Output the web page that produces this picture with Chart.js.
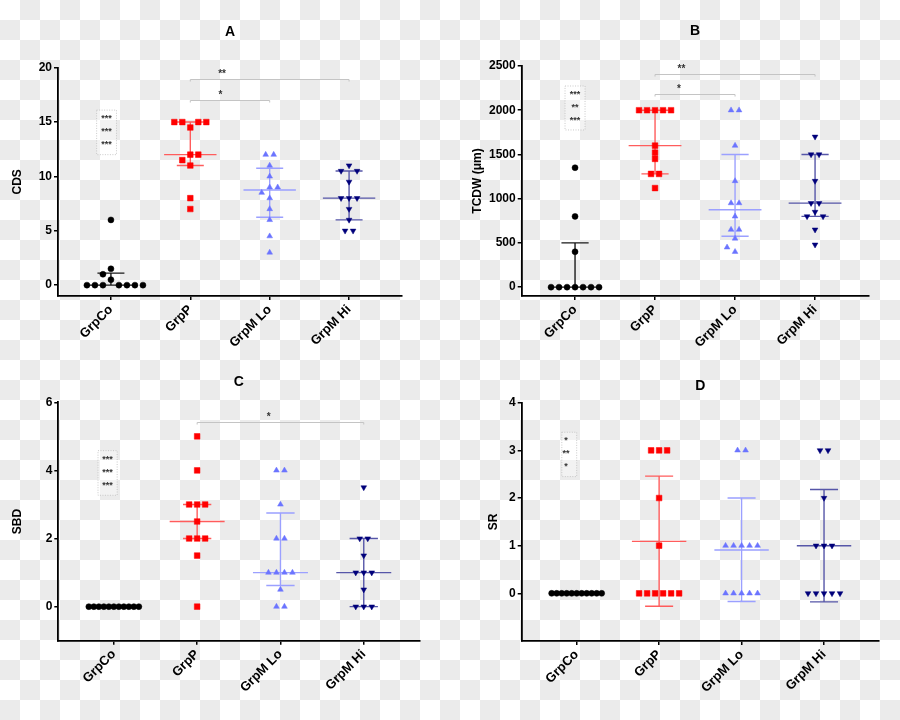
<!DOCTYPE html>
<html>
<head>
<meta charset="utf-8">
<script src="https://cdn.jsdelivr.net/npm/chart.js@4.4.1/dist/chart.umd.min.js"></script>
<style>
  html, body { margin: 0; padding: 0; }
  body {
    width: 900px; height: 720px; position: relative; overflow: hidden;
    background-color: #fff;
    background-image: conic-gradient(#ebebeb 0 25%, #fff 0 50%, #ebebeb 0 75%, #fff 0);
    background-size: 40px 40px;
  }
  canvas { position: absolute; }
</style>
</head>
<body>
<canvas id="cA" width="450" height="360" style="left:0;top:0"></canvas>
<canvas id="cB" width="450" height="360" style="left:450px;top:0"></canvas>
<canvas id="cC" width="450" height="360" style="left:0;top:360px"></canvas>
<canvas id="cD" width="450" height="360" style="left:450px;top:360px"></canvas>
<script>
// ── Data ─────────────────────────────────────────────────────────
const groups = ["GrpCo", "GrpP", "GrpM Lo", "GrpM Hi"];

// A — CDS
const cdsCo  = [0.5, 6, 1.5, 1, 0, 0, 0, 0, 0, 0, 0];
const cdsP   = [15, 15, 15, 15, 14.5, 12, 12, 11.5, 11, 8, 7];
const cdsLo  = [12, 12, 11, 10, 9, 9, 8.5, 8, 7, 6, 4.5, 3];
const cdsHi  = [11, 10.5, 10.5, 9.5, 8, 8, 8, 7, 6, 5, 5];
const cdsMid  = [0, 12, 8.75, 8];
const cdsLow  = [0, 11, 6.25, 6];
const cdsHigh = [1.1, 15, 10.75, 10.5];
const cdsTicks = [0, 5, 10, 15, 20];

// B — TCDW (µm)
const tcdwCo = [1350, 800, 400, 0, 0, 0, 0, 0, 0, 0];
const tcdwP  = [2000, 2000, 2000, 2000, 2000, 1600, 1520, 1450, 1280, 1280, 1120];
const tcdwLo = [2000, 2000, 1600, 1200, 950, 950, 800, 650, 650, 550, 450, 400];
const tcdwHi = [1700, 1500, 1500, 1200, 950, 950, 850, 800, 800, 650, 480];
const tcdwMid  = [0, 1600, 875, 950];
const tcdwLow  = [0, 1280, 575, 800];
const tcdwHigh = [500, 2000, 1500, 1500];
const tcdwTicks = [0, 500, 1000, 1500, 2000, 2500];

// C — SBD
const sbdCo = [0, 0, 0, 0, 0, 0, 0, 0, 0, 0, 0];
const sbdP  = [5, 4, 3, 3, 3, 2.5, 2, 2, 2, 1.5, 0];
const sbdLo = [4, 4, 3, 2, 2, 1, 1, 1, 1, 0.5, 0, 0];
const sbdHi = [3.5, 2, 2, 1.5, 1, 1, 1, 0.5, 0, 0, 0];
const sbdMid  = [0, 2.5, 1, 1];
const sbdLow  = [0, 2, 0.62, 0];
const sbdHigh = [0, 3, 2.75, 2];
const sbdTicks = [0, 2, 4, 6];

// D — SR
const srCo = [0, 0, 0, 0, 0, 0, 0, 0, 0, 0, 0];
const srP  = [3, 3, 3, 2, 1, 0, 0, 0, 0, 0, 0];
const srLo = [3, 3, 1, 1, 1, 1, 1, 0, 0, 0, 0, 0];
const srHi = [3, 3, 2, 1, 1, 1, 0, 0, 0, 0, 0];
const srMid  = [0, 1.09, 0.91, 1.0];
const srLow  = [0, -0.27, -0.17, -0.18];
const srHigh = [0, 2.46, 2.0, 2.18];
const srTicks = [0, 1, 2, 3, 4];

// significance annotations (data units; from/to are group numbers)
const cdsBrackets  = [{ from: 2, to: 4, y: 19, text: "**", at: 2.4 }, { from: 2, to: 3, y: 17, text: "*", at: 2.38 }];
const tcdwBrackets = [{ from: 2, to: 4, y: 2415, text: "**", at: 2.33 }, { from: 2, to: 3, y: 2185, text: "*", at: 2.3 }];
const sbdBrackets  = [{ from: 2, to: 4, y: 5.43, text: "*", at: 2.86 }];
const srBrackets   = [];

const cdsStars  = ["***", "***", "***"];
const tcdwStars = ["***", "**", "***"];
const sbdStars  = ["***", "***", "***"];
const srStars   = ["*", "**", "*"];

// ── Styles ───────────────────────────────────────────────────────
const FONT = '"Liberation Sans", Arial, sans-serif';
const markers = [
  { style: "circle",   radius: 3,   rot: 0,   fill: "#000000", line: "#1a1a1a" },
  { style: "rect",     radius: 4,   rot: 0,   fill: "#ff0000", line: "#ff5c5c" },
  { style: "triangle", radius: 3.3, rot: 0,   fill: "#6b74ff", line: "#9ba0ff" },
  { style: "triangle", radius: 3.3, rot: 180, fill: "#00007a", line: "#5656a8" }
];
const X_MIN = 1 / 3, X_MAX = 4 + 2 / 3;

const panels = [
  { canvas: "cA", title: "A", yTitle: "CDS", series: [cdsCo, cdsP, cdsLo, cdsHi],
    mid: cdsMid, low: cdsLow, high: cdsHigh, ticks: cdsTicks, yMin: -1, yMax: 20,
    brackets: cdsBrackets, stars: cdsStars, box: { x0: 0.82, x1: 1.07, y0: 16.1, y1: 12.0, tx: 0.945 },
    area: { left: 58, top: 67.7, right: 402, bottom: 296 }, titleY: 32, yTitlePad: 10 },
  { canvas: "cB", title: "B", yTitle: "TCDW (\u03bcm)", series: [tcdwCo, tcdwP, tcdwLo, tcdwHi],
    mid: tcdwMid, low: tcdwLow, high: tcdwHigh, ticks: tcdwTicks, yMin: -100, yMax: 2500,
    brackets: tcdwBrackets, stars: tcdwStars, box: { x0: 0.875, x1: 1.125, y0: 2274, y1: 1777, tx: 1.0 },
    area: { left: 71.7, top: 66, right: 418.4, bottom: 296 }, titleY: 31, yTitlePad: 20 },
  { canvas: "cC", title: "C", yTitle: "SBD", series: [sbdCo, sbdP, sbdLo, sbdHi],
    mid: sbdMid, low: sbdLow, high: sbdHigh, ticks: sbdTicks, yMin: -1, yMax: 6,
    brackets: sbdBrackets, stars: sbdStars, box: { x0: 0.81, x1: 1.04, y0: 4.58, y1: 3.27, tx: 0.923 },
    area: { left: 58.3, top: 42.3, right: 419.3, bottom: 280.7 }, titleY: 22.5, yTitlePad: 10 },
  { canvas: "cD", title: "D", yTitle: "SR", series: [srCo, srP, srLo, srHi],
    mid: srMid, low: srLow, high: srHigh, ticks: srTicks, yMin: -1, yMax: 4,
    brackets: srBrackets, stars: srStars, box: { x0: 0.82, x1: 1.0, y0: 3.38, y1: 2.45, tx: 0.87 },
    area: { left: 71.7, top: 42.7, right: 429, bottom: 281 }, titleY: 26, yTitlePad: 36 }
];

// ── Scatter layout: spread tied values sideways (Prism-like) ─────
function rowLayout(n, step, gap) {
  if (!gap) return Array.from({ length: n }, (_, i) => (i - (n - 1) / 2) * step);
  const L = Math.floor(n / 2), out = [];
  for (let i = 0; i < L; i++) out.push(-(gap / 2 + (i + 0.5) * step));
  for (let i = 0; i < n - L; i++) out.push(gap / 2 + (i + 0.5) * step);
  return out;
}

function swarm(values, pxX, pxY) {
  const counts = new Map();
  values.forEach(v => counts.set(v, (counts.get(v) || 0) + 1));
  const rows = [...counts.entries()].sort((a, b) => a[1] - b[1] || a[0] - b[0]);
  const placed = [];
  const rowOffsets = new Map();
  rows.forEach(([v, n]) => {
    const step = n > 1 ? Math.min(8, 50 / (n - 1)) : 0;
    const yPx = v * pxY;
    const cands = [rowLayout(n, step, 0)];
    for (let k = 1; k <= 10; k++) {
      const s = 4 * k;
      if (n > 1) cands.push(rowLayout(n, step, 2 * s));
      cands.push(rowLayout(n, step, 0).map(b => b - s), rowLayout(n, step, 0).map(b => b + s));
    }
    let pick = cands[0];
    for (const cand of cands) {
      const hit = cand.some(cx => placed.some(p => Math.abs(p.x - cx) < 6.5 && Math.abs(p.y - yPx) < 5.6));
      if (!hit) { pick = cand; break; }
    }
    pick.forEach(cx => placed.push({ x: cx, y: yPx }));
    rowOffsets.set(v, pick.slice());
  });
  return values.map(v => rowOffsets.get(v).shift() / pxX);
}

function errorBarData(pos, mid, low, high) {
  const gap = { x: pos, y: null };
  return [
    { x: pos - 0.33, y: mid }, { x: pos + 0.33, y: mid }, gap,
    { x: pos - 0.17, y: high }, { x: pos + 0.17, y: high }, gap,
    { x: pos, y: low }, { x: pos, y: high }, gap,
    { x: pos - 0.17, y: low }, { x: pos + 0.17, y: low }
  ];
}

// ── Decorations: panel letter, brackets, dotted star boxes ───────
function makeDeco(p) {
  return {
    id: "deco",
    beforeDatasetsDraw(chart) {
      const { ctx, scales: { x, y } } = chart;
      ctx.save();
      // dotted box with stars
      const b = p.box;
      const bx0 = x.getPixelForValue(b.x0), bx1 = x.getPixelForValue(b.x1);
      const by0 = y.getPixelForValue(b.y0), by1 = y.getPixelForValue(b.y1);
      ctx.fillStyle = "rgba(255,255,255,0.35)";
      ctx.fillRect(bx0, by0, bx1 - bx0, by1 - by0);
      ctx.setLineDash([1, 1.5]);
      ctx.strokeStyle = "#bdbdbd";
      ctx.lineWidth = 0.8;
      ctx.strokeRect(bx0, by0, bx1 - bx0, by1 - by0);
      ctx.setLineDash([]);
      ctx.fillStyle = "#333";
      ctx.font = "bold 9px " + FONT;
      ctx.textAlign = "center";
      ctx.textBaseline = "middle";
      const tx = x.getPixelForValue(b.tx);
      p.stars.forEach((t, i) => {
        ctx.fillText(t, tx, by0 + (by1 - by0) * (0.15 + 0.29 * i) + 2);
      });
      // brackets
      p.brackets.forEach(br => {
        const x0 = x.getPixelForValue(br.from), x1 = x.getPixelForValue(br.to);
        const yy = Math.round(y.getPixelForValue(br.y)) + 0.5;
        ctx.strokeStyle = "#c4c4c4";
        ctx.lineWidth = 1;
        ctx.beginPath();
        ctx.moveTo(x0, yy + 2); ctx.lineTo(x0, yy); ctx.lineTo(x1, yy); ctx.lineTo(x1, yy + 2);
        ctx.stroke();
        ctx.fillStyle = "#333";
        ctx.font = "bold 10px " + FONT;
        ctx.textBaseline = "alphabetic";
        ctx.fillText(br.text, x.getPixelForValue(br.at), yy - 3);
      });
      ctx.restore();
    },
    afterDraw(chart) {
      const { ctx, chartArea } = chart;
      ctx.save();
      ctx.fillStyle = "#000";
      ctx.font = "bold 14px " + FONT;
      ctx.textAlign = "center";
      ctx.textBaseline = "middle";
      ctx.fillText(p.title, (chartArea.left + chartArea.right) / 2, p.titleY);
      ctx.restore();
    }
  };
}

// ── Build charts ─────────────────────────────────────────────────
panels.forEach(p => {
  const canvas = document.getElementById(p.canvas);
  const W = canvas.width, H = canvas.height, a = p.area;
  const pxX = (a.right - a.left) / (X_MAX - X_MIN);
  const pxY = (a.bottom - a.top) / (p.yMax - p.yMin);

  const pointSets = p.series.map((vals, g) => {
    const m = markers[g];
    const offs = swarm(vals, pxX, pxY);
    return {
      data: vals.map((v, k) => ({ x: g + 1 + offs[k], y: v })),
      pointStyle: m.style,
      pointRadius: m.radius,
      pointRotation: m.rot,
      backgroundColor: m.fill,
      borderColor: m.fill,
      borderWidth: 0.5,
      showLine: false
    };
  });
  const barSets = p.mid.map((mv, g) => ({
    data: errorBarData(g + 1, mv, p.low[g], p.high[g]),
    showLine: true,
    spanGaps: false,
    pointRadius: 0,
    borderColor: markers[g].line,
    borderWidth: 1.4,
    fill: false
  }));

  new Chart(canvas, {
    type: "scatter",
    data: { datasets: [...pointSets, ...barSets] },
    plugins: [makeDeco(p)],
    options: {
      responsive: false,
      animation: false,
      layout: { padding: { left: 0, top: a.top, right: W - a.right, bottom: 0 } },
      plugins: { legend: { display: false }, tooltip: { enabled: false } },
      scales: {
        x: {
          type: "linear",
          min: X_MIN, max: X_MAX,
          afterBuildTicks: s => { s.ticks = groups.map((_, i) => ({ value: i + 1 })); },
          afterFit: s => { s.height = H - a.bottom; },
          border: { display: true, color: "#000", width: 1.8 },
          grid: { drawOnChartArea: false, drawTicks: true, tickLength: 4, color: "#000", lineWidth: 1.5 },
          ticks: {
            autoSkip: false, minRotation: 45, maxRotation: 45, padding: 2,
            color: "#000", font: { family: FONT, size: 13, weight: "bold" },
            callback: v => groups[v - 1]
          }
        },
        y: {
          type: "linear",
          min: p.yMin, max: p.yMax,
          afterBuildTicks: s => { s.ticks = p.ticks.map(v => ({ value: v })); },
          afterFit: s => { s.width = a.left; },
          border: { display: true, color: "#000", width: 1.8 },
          grid: { drawOnChartArea: false, drawTicks: true, tickLength: 4, color: "#000", lineWidth: 1.5 },
          ticks: {
            padding: 2, color: "#000", font: { family: FONT, size: 12, weight: "bold" },
            callback: v => String(v)
          },
          title: {
            display: true, text: p.yTitle, color: "#000",
            font: { family: FONT, size: 12, weight: "bold" },
            padding: { top: p.yTitlePad, bottom: 0 }
          }
        }
      }
    }
  });
});
</script>
</body>
</html>
